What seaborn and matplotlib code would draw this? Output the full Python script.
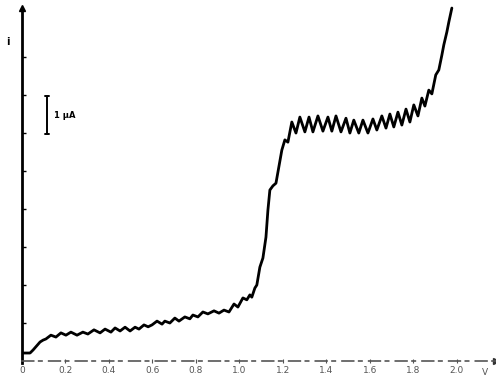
import matplotlib
matplotlib.use("Agg")
import matplotlib.pyplot as plt
import numpy as np
import pandas as pd
import seaborn as sns

# Polarogram: potential (V) against current (µA), read point by point
potential = [
    0.000, 0.037, 0.051, 0.083, 0.097, 0.110, 0.133, 0.156, 0.179, 0.202,
    0.225, 0.253, 0.280, 0.303, 0.331, 0.359, 0.382, 0.409, 0.428, 0.451,
    0.474, 0.497, 0.520, 0.538, 0.561, 0.580, 0.598, 0.621, 0.644, 0.657,
    0.680, 0.703, 0.722, 0.749, 0.772, 0.786, 0.809, 0.832, 0.855, 0.883,
    0.906, 0.929, 0.952, 0.975, 0.993, 1.016, 1.034, 1.048, 1.057, 1.071,
    1.080, 1.094, 1.108, 1.122, 1.131, 1.140, 1.154, 1.168, 1.177, 1.195,
    1.209, 1.223, 1.241, 1.260, 1.278, 1.301, 1.320, 1.338, 1.361, 1.384,
    1.407, 1.425, 1.444, 1.467, 1.490, 1.508, 1.526, 1.549, 1.568, 1.591,
    1.614, 1.632, 1.655, 1.674, 1.692, 1.710, 1.729, 1.747, 1.766, 1.784,
    1.802, 1.821, 1.839, 1.853, 1.871, 1.885, 1.903, 1.917, 1.931, 1.940,
    1.954, 1.963, 1.977,
]
current = [
    0.21, 0.21, 0.29, 0.50, 0.55, 0.58, 0.68, 0.63, 0.74, 0.68,
    0.76, 0.68, 0.76, 0.71, 0.82, 0.74, 0.84, 0.76, 0.87, 0.79,
    0.89, 0.79, 0.89, 0.84, 0.95, 0.90, 0.95, 1.05, 0.97, 1.05,
    1.00, 1.13, 1.05, 1.16, 1.11, 1.21, 1.16, 1.29, 1.24, 1.32,
    1.26, 1.34, 1.29, 1.50, 1.42, 1.66, 1.61, 1.74, 1.68, 1.92,
    2.00, 2.47, 2.71, 3.26, 3.97, 4.50, 4.61, 4.68, 4.97, 5.55,
    5.82, 5.76, 6.29, 6.00, 6.42, 6.03, 6.42, 6.03, 6.45, 6.05,
    6.42, 6.05, 6.45, 6.03, 6.39, 6.00, 6.34, 6.00, 6.34, 6.00,
    6.37, 6.08, 6.45, 6.13, 6.50, 6.16, 6.55, 6.21, 6.63, 6.29,
    6.74, 6.45, 6.92, 6.71, 7.13, 7.03, 7.53, 7.66, 8.05, 8.32,
    8.66, 8.92, 9.29,
]

x_ticks = [0.0, 0.2, 0.4, 0.6, 0.8, 1.0, 1.2, 1.4, 1.6, 1.8, 2.0]
x_tick_labels = ["0", "0.2", "0.4", "0.6", "0.8", "1.0", "1.2", "1.4", "1.6", "1.8", "2.0"]
y_ticks = [1, 2, 3, 4, 5, 6, 7, 8]
scale_bar_uA = 1.0
scale_bar_base = 5.97

df = pd.DataFrame({"E": potential, "i": current})

sns.set_style("white")
plt.rcParams["font.family"] = ["DejaVu Sans"]

fig = plt.figure(figsize=(4.96, 3.79), dpi=100)
ax = fig.add_axes([22 / 496, 18 / 379, 474 / 496, 356 / 379])

sns.lineplot(data=df, x="E", y="i", sort=False, estimator=None,
             color="black", linewidth=2.0, ax=ax)

ax.set_xlim(0, 2.18)
ax.set_ylim(0, 9.37)
ax.set_xlabel("")
ax.set_ylabel("")

# axes: heavy current axis, faint broken potential axis
for side in ("top", "right"):
    ax.spines[side].set_visible(False)
ax.spines["left"].set_linewidth(2.0)
ax.spines["left"].set_color("black")
ax.spines["left"].set_bounds(-0.05, 9.2)
ax.spines["bottom"].set_linewidth(1.2)
ax.spines["bottom"].set_color("#555555")
ax.spines["bottom"].set_linestyle((0, (7, 3, 2, 4)))

ax.set_xticks(x_ticks)
ax.set_xticklabels(x_tick_labels)
ax.set_yticks(y_ticks)
ax.set_yticklabels([])
ax.tick_params(axis="x", bottom=True, direction="inout", length=3, width=0.8,
               colors="#555555", labelsize=6.5, pad=2)
ax.tick_params(axis="y", left=True, direction="in", length=3, width=1.0,
               colors="black")

# arrowheads on both axes
ax.plot([0], [9.3], marker="^", color="black", markersize=5,
        clip_on=False, transform=ax.transData)
ax.plot([1.0], [0], marker=">", color="#333333", markersize=4,
        clip_on=False, transform=ax.get_yaxis_transform())

ax.text(2.13, -0.3, "V", fontsize=6.5, color="#555555",
        ha="center", va="center")
ax.text(-0.065, 8.4, "i", fontsize=7, fontweight="bold", color="black",
        ha="center", va="center")

# current scale bar
bar_x = 0.115
ax.plot([bar_x, bar_x], [scale_bar_base, scale_bar_base + scale_bar_uA],
        color="black", linewidth=1.4, solid_capstyle="butt")
for yy in (scale_bar_base, scale_bar_base + scale_bar_uA):
    ax.plot([bar_x - 0.008, bar_x + 0.008], [yy, yy], color="black", linewidth=1.4)
ax.text(0.148, scale_bar_base + 0.5 * scale_bar_uA, "1 μA", fontsize=6,
        fontweight="bold", color="black", ha="left", va="center")

fig.savefig("out.png", dpi=100, facecolor="white")
